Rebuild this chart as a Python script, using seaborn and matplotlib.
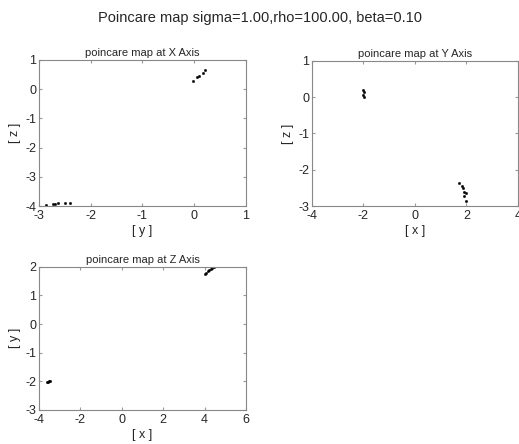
import matplotlib
matplotlib.use("Agg")
import matplotlib.pyplot as plt
import seaborn as sns
import pandas as pd

# section at X axis: (y, z)
x_sec_y = [-2.86, -2.72, -2.68, -2.64, -2.50, -2.40, -0.02, 0.05, 0.09, 0.16, 0.20]
x_sec_z = [-3.97, -3.93, -3.93, -3.91, -3.88, -3.88, 0.29, 0.43, 0.46, 0.57, 0.66]

# section at Y axis: (x, z)
y_sec_x = [-2.03, -1.99, -2.02, -1.98, 1.72, 1.81, 1.88, 1.90, 1.97, 1.91, 1.98]
y_sec_z = [0.20, 0.13, 0.06, 0.00, -2.36, -2.45, -2.51, -2.61, -2.65, -2.72, -2.85]

# section at Z axis: (x, y)
z_sec_x = [-3.63, -3.58, -3.53, -3.47, 4.00, 4.08, 4.15, 4.22, 4.30, 4.38, 4.45]
z_sec_y = [-2.04, -2.02, -2.00, -1.98, 1.75, 1.80, 1.85, 1.88, 1.93, 1.97, 2.00]

sns.set_style("white")
plt.rcParams['font.family'] = ['Liberation Sans', 'DejaVu Sans']
plt.rcParams['axes.unicode_minus'] = False
plt.rcParams['xtick.direction'] = 'in'
plt.rcParams['ytick.direction'] = 'in'

fig = plt.figure(figsize=(5.19, 4.44), dpi=100)
fig.suptitle('Poincare map sigma=1.00,rho=100.00, beta=0.10', fontsize=10.5, y=0.975)

panels = [
    ([0.075, 0.536, 0.399, 0.329], x_sec_y, x_sec_z, 'poincare map at X Axis',
     '[ y ]', '[ z ]', (-3, 1), (-4, 1), [-3, -2, -1, 0, 1], [-4, -3, -2, -1, 0, 1]),
    ([0.601, 0.536, 0.397, 0.327], y_sec_x, y_sec_z, 'poincare map at Y Axis',
     '[ x ]', '[ z ]', (-4, 4), (-3, 1), [-4, -2, 0, 2, 4], [-3, -2, -1, 0, 1]),
    ([0.075, 0.077, 0.399, 0.322], z_sec_x, z_sec_y, 'poincare map at Z Axis',
     '[ x ]', '[ y ]', (-4, 6), (-3, 2), [-4, -2, 0, 2, 4, 6], [-3, -2, -1, 0, 1, 2]),
]

for rect, xs, ys, title, xl, yl, xlim, ylim, xt, yt in panels:
    ax = fig.add_axes(rect)
    df = pd.DataFrame({'a': xs, 'b': ys})
    sns.scatterplot(data=df, x='a', y='b', ax=ax, color='black', marker='o',
                    s=3, edgecolor='black', linewidth=0.3)
    ax.set_xlim(xlim)
    ax.set_ylim(ylim)
    ax.set_xticks(xt)
    ax.set_yticks(yt)
    ax.set_title(title, fontsize=8, pad=3)
    ax.set_xlabel(xl, fontsize=9, labelpad=2)
    ax.set_ylabel(yl, fontsize=9, labelpad=3)
    ax.tick_params(labelsize=9, length=2.5, color='#999999', top=True, right=True,
                   bottom=True, left=True, pad=2)
    ax.tick_params(axis='x', pad=3)
    for sp in ax.spines.values():
        sp.set_color('#888888')
        sp.set_linewidth(0.8)

fig.savefig('out.png', dpi=100)
